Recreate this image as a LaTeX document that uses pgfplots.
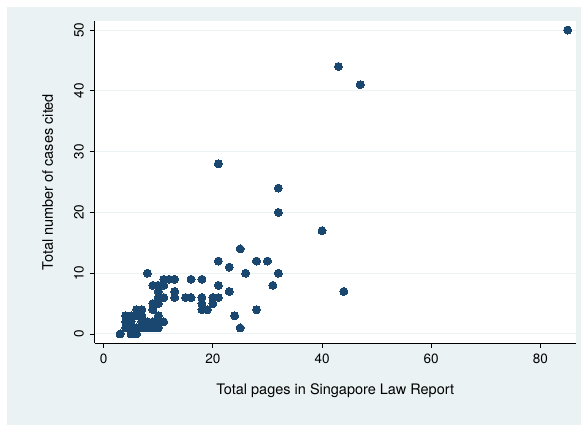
\documentclass[border=0pt]{standalone}
\usepackage{fontspec}
\setmainfont{TeX Gyre Heros}
\usepackage{pgfplots}
\pgfplotsset{compat=1.18}
\definecolor{bgc}{RGB}{234,242,243}
\definecolor{navy}{RGB}{26,71,111}
\begin{document}
\begin{tikzpicture}[x=1pt,y=1pt]
\useasboundingbox (0,0) rectangle (581,425);
\fill[white] (0,0) rectangle (581,425);
\fill[bgc] (7,0) rectangle (581,418);
\begin{axis}[
  at={(94.5pt,82pt)}, anchor=south west,
  scale only axis, width=481.5pt, height=321.5pt,
  xmin=-1.69, xmax=86.54, ymin=-1.48, ymax=51.4,
  axis x line*=bottom, axis y line*=left,
  axis line style={black, line width=0.8pt},
  axis background/.style={fill=white},
  xtick={0,20,...,80}, ytick={0,10,...,50},
  tick align=outside, major tick length=5pt,
  tick style={black, line width=0.8pt},
  ymajorgrids, grid style={bgc, line width=1pt},
  /pgf/number format/assume math mode=true,
  xticklabel style={font=\fontsize{13.5}{16}\selectfont, inner sep=0pt, anchor=north},
  yticklabel style={font=\fontsize{13.5}{16}\selectfont, inner sep=0pt, rotate=90, anchor=south},
  xticklabel shift=6pt, yticklabel shift=5.5pt,
  xlabel={Total pages in Singapore Law Report},
  ylabel={Total number of cases cited},
  xlabel style={font=\fontsize{14.5}{17}\selectfont, at={(axis description cs:0.5,-0.148)}, anchor=center},
  ylabel style={font=\fontsize{14.5}{17}\selectfont, at={(axis description cs:-0.097,0.5)}, anchor=center},
]
\addplot[only marks, mark=*, mark size=4pt, mark options={fill=navy, draw=navy, line width=0pt}] coordinates {
(3,0)(5,0)(6,0)
(4,1)(5,1)(6,1)(7,1)(8,1)(9,1)(10,1)
(4,2)(5,2)(7,2)(8,2)(9,2)(10,2)(11,2)
(4,3)(5,3)(6,3)(7,3)(10,3)
(6,4)(7,4)(9,4)
(9,5)(10,5)
(10,6)(11,6)(13,6)(15,6)(16,6)(18,6)(20,6)(21,6)
(10,7)(13,7)(23,7)
(9,8)(10,8)(11,8)(21,8)(31,8)
(11,9)(12,9)(13,9)(16,9)(18,9)
(8,10)(26,10)(32,10)
(18,4)(19,4)(28,4)
(18,5)(20,5)
(24,3)(25,1)
(23,11)
(21,12)(28,12)(30,12)
(25,14)
(40,17)
(32,20)
(32,24)
(21,28)
(47,41)
(43,44)
(85,50)
(44,7)
};
\end{axis}
\end{tikzpicture}
\end{document}
